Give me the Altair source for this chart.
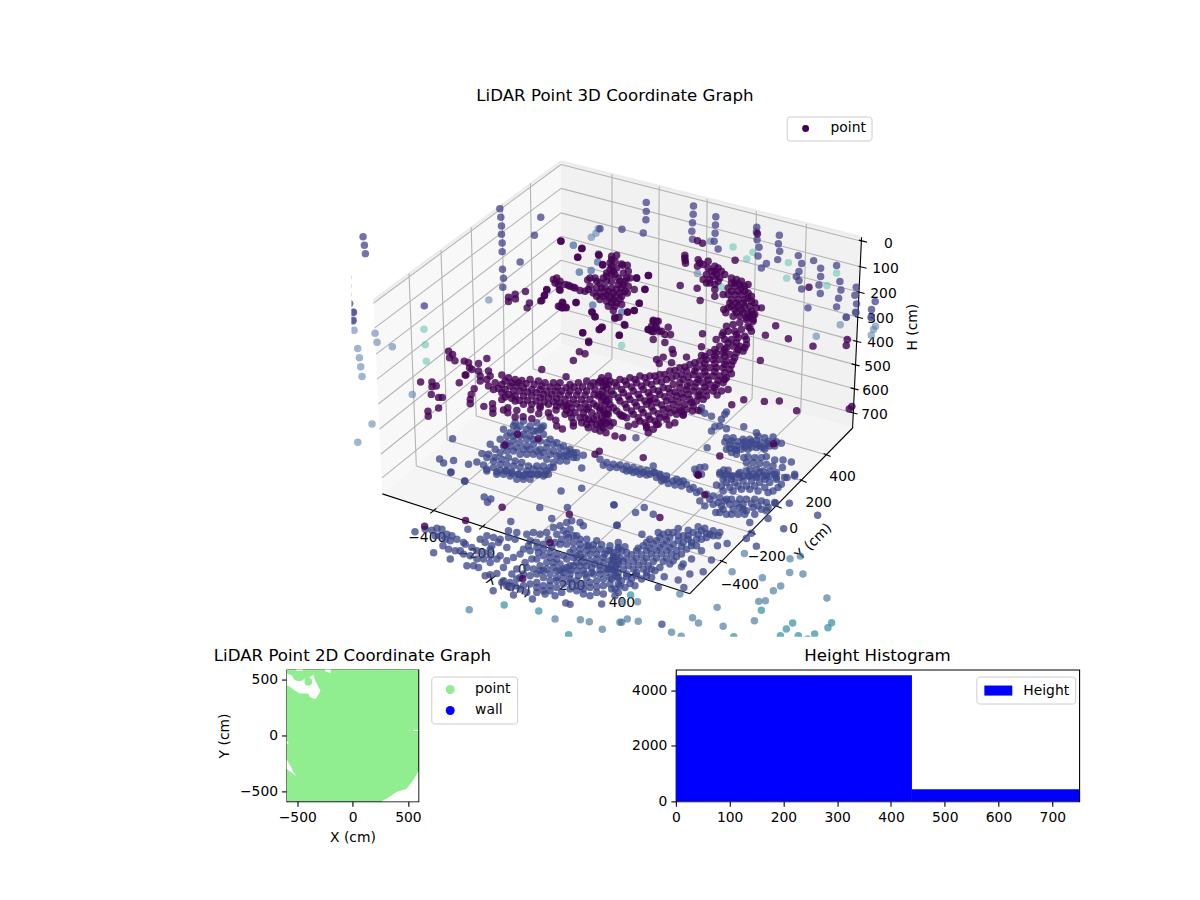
import altair as alt
import pandas as pd

FONT = "DejaVu Sans"
TITLE_3D = "LiDAR Point 3D Coordinate Graph"
TITLE_2D = "LiDAR Point 2D Coordinate Graph"
TITLE_HIST = "Height Histogram"

# 3D scatter: projected positions, in crop units
crop_origin = {1: (340, 150), 2: (600, 150), 3: (340, 310), 4: (600, 310),
               5: (370, 470), 6: (610, 470), 10: (540, 240)}

aqua_pts = [
    (2, [(400,287),(441,323),(460,303),(566,334),(561,381),(682,403),(711,365),(365,407)]),
    (3, [(251,54),(255,101),(258,150)]),
    (4, [(65,103)]),
]
steelfar_pts = [
    (1, [(446,446),(754,258),(768,246),(775,232),(700,282),(773,332),(718,362),(754,358),(758,462)]),
    (2, [(332,270),(293,367),(66,483)]),
    (3, [(38,3),(37,30),(41,57),(52,112),(57,140),(61,167),(65,196),(104,66),(110,93),(156,107),(216,250),(95,339),(52,394)]),
    (4, [(650,75),(722,41),(740,18),(770,5),(815,20),(828,45),(822,55),(815,72)]),
    (10, [(158,191),(245,212),(100,12),(175,37),(173,62),(118,93),(153,88)]),
]
steel_pts = [
    (5, [(297,417),(697,476),(750,455),(555,445),(631,447),(658,453)]),
    (6, [(404,248),(367,303),(541,264),(572,256),(540,305),(580,310),(458,321),(513,346),(491,360),
         (447,392),(467,390),(652,382),(322,410),(434,450),(340,467),(248,441),(266,457),(185,485),
         (214,497),(85,452),(52,445),(35,455),(83,393),(37,393),(210,370)]),
]
teal_pts = [
    (5, [(402,403),(506,421),(596,492)]),
    (6, [(62,373),(455,419),(549,457),(530,475),(512,495),(566,495),(615,490),(666,456),(655,471),(372,498),(594,505)]),
]
indigo_pts = [
    (1, [(22,378),(22,404),(22,430),(28,457),(39,483),(38,507),(68,256),(72,282),(75,307),(479,172),(482,198),(484,224),(484,249),
         (486,275),(486,301),(487,354),(490,381),(488,408),(602,198),(583,252),(540,332),(252,464)]),
    (2, [(139,153),(139,180),(138,205),(66,234),(130,245),(0,232),(281,164),(280,189),(278,214),(276,240),(278,264),
         (348,196),(347,221),(346,246),(343,270),(355,293),(471,228),(470,242),(472,265),(478,288),(475,314),(500,337),(485,350),
         (539,252),(536,277),(540,300),(534,325),(596,313),(606,337),(598,361),(590,376),(598,388),(606,413),(642,328),
         (663,351),(663,376),(658,401),(662,427),(711,343),(721,391),(724,416),(717,441),(711,467),(770,408),(766,432),
         (771,458),(768,483),(827,451),(816,475),(815,498),(740,498),(625,470)]),
]
blue_pts = [
    (3, [(525,335),(550,330),(570,345),(590,335),(605,350),(610,345),
         (490,355),(510,365),(530,355),(550,370),(570,375),(590,360),(610,370),(630,385),(650,395),(670,405),(690,415),(710,425),(730,433),
         (480,385),(500,395),(520,390),(540,395),(560,405),(580,400),(600,415),(620,410),(640,420),(660,430),(680,435),(700,440),
         (450,400),(465,415),(480,425),(500,420),(520,420),(540,430),(560,430),(580,430),(600,435),(620,445),(640,455),(660,450),(680,450),
         (425,428),(445,430),(465,440),(485,445),(505,440),(525,450),(545,455),(565,465),(590,465),(610,465),(630,470),
         (410,453),(430,462),(440,475),(460,470),(480,478),(500,478),(515,483),(535,490),(555,490),(575,490),(595,490),(615,490),
         (337,383),(298,444),(310,456),(340,449),(385,460),(332,483),(373,510),(725,471),
         (520,345),(540,345),(560,355),(580,360),(600,355),(500,375),(520,375),(540,375),(560,385),(580,385),(600,390),(620,395),(640,400),(660,410),(680,420),(700,425),
         (490,405),(510,405),(530,410),(550,415),(570,415),(590,420),(610,425),(630,430),(650,435),(670,435),(690,430),(710,440),
         (440,440),(460,450),(480,460),(500,460),(520,465),(540,470),(560,480),(580,475),(600,480),(620,480),(640,470),(470,490),(490,490),(510,495),(530,505),(550,505),(570,505)]),
    (4, [(108,380),(380,353),(432,347),(335,360),(345,347),(360,345),(365,325),(375,310),(380,303),(335,316),(315,307),(305,290),(302,300),(322,410),
         (380,380),(400,380),(430,385),(450,385),(470,365),(475,375),(495,380),(520,378),(545,397),(375,393),(390,400),(410,405),(430,400),(450,400),(470,400),(490,410),(510,405),(380,415),(395,425),(410,430),(425,415),(445,415),(470,410),(495,415),(525,405),(405,415),
         (395,390),(415,392),(435,392),(455,392),(470,388),(485,395),(505,392),(530,392),(390,412),(410,418),(435,408),(455,408),(480,405),(505,398),
         (432,440),(445,437),(465,440),(485,440),(500,437),(525,447),(550,447),(575,453),(440,455),(460,455),(480,458),(500,460),(520,465),(548,470),(450,475),(470,475),(490,480),(510,480),(530,485),(562,500),(585,490),(372,477),(385,478),(360,490),(375,495),(395,495),(415,490),(430,495),(450,495),(470,495),(490,495),(510,495),(530,500),(285,475),(300,470),(315,468),(290,488),(305,490),
         (0,445),(20,455),(40,460),(60,462),(80,465),(100,470),(120,475),(140,478),(160,465),(165,485),(180,490),(200,495),(10,463),(30,470),(50,470),(70,475),(90,478),(110,482),(130,485),(150,490),(170,500),(190,505),(230,505),(250,510)]),
    (5, [(242,5),(284,31),(573,60),(635,52),(342,78),(352,94),(362,84),(509,110),(592,110),(732,102),(422,152),(293,175),(740,163),(545,143),(134,183),(190,246),(240,265),(369,360),(430,373),(487,385),(587,397),(600,401),(695,400),
         (350,0),(380,3),(405,0),(425,8),(445,10),(460,15),(480,10),(500,12),(520,15),(535,10),
         (165,175),(185,178),(200,172),(215,175),(230,190),(195,195),(210,195),(245,195),(260,205),(225,205),(240,210),(280,215),
         (218,225),(235,235),(255,240),(270,240),(285,220),(305,230),(320,240),(340,245),(360,235),(350,195),(370,200),(390,205),(415,180),(440,185),(415,200),(435,205),(330,205),(345,215),(365,225),(385,215),(410,230),
         (280,250),(300,255),(320,265),(290,285),(310,285),(325,290),(340,265),(360,255),(380,265),(390,255),(360,275),(345,315),(360,312),(380,308),(400,290),(410,270),(430,260),(450,250),(460,235),(480,240),(505,245),(520,255),(540,245),(560,250),(500,265),(485,265),(465,275),(440,295),(425,310),(400,330),(420,335),(440,325),(470,290),(490,295),(510,285),(530,275),(550,275),(570,280),(590,265),(610,260),(630,250),(650,240),(670,235),(690,235),(710,240),(730,245),(745,235),
         (470,190),(490,185),(510,190),(530,185),(550,170),(570,165),(590,155),(605,150),(630,155),(640,165),(560,190),(580,180),(600,175),(620,195),(650,205),(680,210),(575,205),(595,200),(610,215),(630,220),(655,225),(535,205),(555,215),(480,210),(500,215),(520,220),
         (460,345),(480,340),(500,335),(520,320),(540,310),(560,300),(580,295),(600,285),(620,275),(640,275),(660,270),(680,265),(700,260),(730,270),(750,260),(500,365),(520,345),(540,345),(560,330),(580,320),(600,310),(620,300),(640,300),(665,290),(690,285),(715,290),(740,285),(410,345),(450,355),(470,365),(525,370),(555,375),(575,365),(600,355),(620,360),(640,370),(660,375),(680,365),(700,370),(725,355),(745,365),(640,340),(660,335),(680,330),(700,325),(720,320),(745,320),(600,335),(620,330),(650,320),(670,310),(690,310),(710,305),(730,300),
         (475,225),(500,230),(520,235),(545,230),(570,220),(590,190),(610,195),(630,205),(590,220),(610,235),(630,235),(650,225),(670,222),(695,222),(720,225),(745,215),(540,260),(560,265),(580,255),(600,245),(620,255),(640,260),(660,250),(680,250),(705,250),(730,258),(510,300),(530,295),(550,290),(570,300),(590,290),(610,285),(630,285),(650,285),(675,280),(700,275),(725,280),(745,270),(480,315),(500,310),(520,300),(540,330),(560,320),(580,305),(600,298),(625,315),(645,310),(665,305),(690,298),(710,295),(735,305),(500,350),(520,360),(540,360),(560,350),(580,340),(600,325),(620,345),(640,355),(660,350),(680,348),(700,345),(720,340),(745,340),(450,320),(460,310),(435,345),(420,350),(395,335)]),
    (6, [(50,0),(70,5),(90,10),(110,12),(130,5),(150,15),(170,25),(190,30),(210,33),(230,40),(250,50),(270,60),(290,70),(310,75),(330,80),(350,85),(155,30),(175,38),(195,42),(215,45),(240,55),(260,65),
         (330,5),(350,10),(370,15),(390,5),(410,0),(430,10),(450,5),(470,15),(495,10),(525,20),(555,15),(320,42),(335,45),(350,35),(375,35),(400,30),(425,30),(450,35),(480,35),(515,40),(370,60),(395,55),(420,55),(445,60),(475,65),(490,60),(270,90),(285,105),(300,85),(325,95),(345,90),(365,85),(390,85),(410,85),(435,85),(455,90),(495,95),(318,125),(340,115),(350,130),(370,115),(390,110),(410,120),(430,110),(455,115),(475,110),(365,130),(385,130),(405,130),(435,130),(470,120),
         (340,25),(365,25),(390,20),(415,15),(440,20),(465,25),(500,25),(340,60),(360,50),(385,45),(410,45),(435,45),(465,50),(505,50),(310,100),(335,105),(360,100),(380,98),(400,100),(425,98),(445,105),(470,95),(330,125),(400,115),
         (12,102),(77,125),(103,110),(130,130),(420,155),(475,143),(497,97),(539,97),(522,174),(22,163),(96,190),(410,203),(425,187),(352,218),(323,225),(440,226),(305,268),(280,303),(240,310),(222,350),(205,328),(163,318),(145,350),(156,461),(624,133),
         (145,185),(175,185),(205,173),(235,178),(265,168),(285,172),(310,180),(330,185),(325,195),
         (120,205),(150,200),(180,200),(205,195),(235,195),(265,190),(290,188),(310,195),
         (100,225),(130,220),(160,220),(190,220),(220,215),(245,215),(275,205),
         (50,245),(80,240),(110,240),(140,240),(170,240),(200,240),(230,235),(260,225),(245,265),(275,240),
         (25,230),(45,228),(0,240),(20,255),(50,265),(80,262),(110,262),(140,262),(170,262),(200,258),(220,280),(215,288),
         (0,270),(25,280),(55,285),(85,283),(115,285),(150,290),(180,280),
         (0,295),(25,305),(50,310),(80,305),(110,305),(135,300),(5,325),(35,330),(65,325),(95,325),(125,320),
         (15,355),(45,350),(75,345),(15,375),
         (160,190),(190,185),(220,195),(250,185),(275,180),(300,190),(110,215),(140,210),(170,210),(205,210),(235,205),(260,205),(290,200),(85,232),(120,232),(150,230),(180,230),(215,228),(245,225),(35,240),(65,252),(95,252),(125,250),(155,250),(185,250),(215,250),(10,262),(40,272),(70,272),(100,272),(130,272),(160,272),(190,270),(15,290),(40,295),(70,295),(100,295),(125,295),(20,318),(50,318),(80,315),(110,315),(30,345),(60,338)]),
]
purple_pts = [
    (1, [(556,421),(525,429),(526,443),(505,438),(505,451),(568,455),(561,470),(620,416),(613,433),(602,449),(662,269),(726,291),(713,318),(776,310),(788,341),(708,454),(658,415),(743,386),(660,465),(668,455),(678,470),(665,470),(757,483),(765,497)]),
    (2, [(473,247),(293,268),(308,276),(406,327),(146,373),(110,380),(135,414),(118,456),(103,478),(83,483),(45,498),(241,403),(292,411),(301,448),(255,312),(255,320),(256,328),(257,336),(628,408),
         (295,325),(293,345),(310,340),(325,330),(325,350),(345,345),(345,360),(365,360),(320,370),(340,375),(360,380),(375,370),(310,385),(330,395),(345,400),(345,415),(345,435),(370,430),(395,380),(410,385),(425,390),(445,400),(385,410),(405,405),(425,410),(445,425),(385,430),(405,430),(425,430),(445,440),(465,455),(390,455),(410,455),(430,455),(450,465),(470,470),(385,470),(405,475),(425,475),(445,485),(465,490),(400,495),(420,495),(440,500),(460,505),(372,475),(378,485),(485,470),
         (300,335),(335,360),(355,350),(350,370),(330,385),(320,395),(355,390),(405,395),(420,400),(435,405),(395,395),(395,420),(415,420),(435,420),(455,435),(395,445),(415,445),(435,445),(455,450),(395,465),(415,465),(435,465),(455,480),(410,485),(430,485),(450,495)]),
    (3, [(241,213),(275,213),(275,227),(288,225),(357,215),(273,250),(295,259),(306,259),(295,291),(263,301),(264,316),(402,233),(393,250),(390,265),(390,278),(431,286),(457,278),(458,293),(458,307),(377,192),(490,297),(503,290),(503,305),(530,298),(525,318),(549,317),(572,296),(600,290),(596,308),(575,323),(605,175),(678,197),(700,148),(718,122),(735,128),(746,94),(728,65),(778,55),(787,48),(625,305),(630,318),(648,297),(647,328),(650,345),(667,354),(532,370),(594,383),(494,402),(440,142),(765,430),(778,421),
         (325,120),(337,130),(328,140),(344,149),(372,150),(385,155),(388,170),(415,157),(415,180),(395,175),(445,180),(450,195),(420,195),(440,205),(420,210),(375,192),
         (485,192),(505,200),(525,205),(545,208),(570,205),(595,210),(615,215),(640,215),(660,215),(690,220),(715,215),(740,210),(760,215),(785,200),(805,195),
         (465,215),(485,220),(510,225),(530,225),(550,230),(575,235),(600,235),(620,240),(645,240),(665,240),(690,240),(715,240),(740,240),(765,235),(790,225),(805,220),
         (445,225),(460,235),(485,245),(505,250),(525,255),(550,255),(575,255),(600,260),(625,260),(650,262),(675,265),(700,265),(725,265),(750,265),(775,255),(800,250),
         (485,265),(525,270),(550,280),(575,280),(600,285),(625,280),(670,285),(695,290),(720,290),(745,290),(770,285),(795,280),
         (675,310),(695,320),(720,320),(745,325),(770,315),(795,310),(740,340),(765,355),(790,350),(745,350),(805,330),
         (495,210),(515,215),(535,215),(558,218),(582,220),(605,225),(630,228),(652,228),(678,230),(702,228),(728,228),(752,225),(775,215),(797,210),(475,232),(495,235),(520,240),(540,240),(562,243),(588,245),(610,250),(635,250),(660,252),(685,252),(710,252),(735,252),(762,250),(787,240),(495,258),(515,262),(538,268),(562,268),(588,270),(612,272),(640,272),(660,275),(688,278),(710,278),(735,278),(760,278),(785,268),(807,265),(680,298),(705,305),(730,305),(755,305),(780,298),(805,295),(690,305),(755,335),(780,335),(805,310),(770,340),
         (700,335),(725,335),(700,345),(680,285),(650,285),(740,295),(810,345),(790,330),(760,325),(735,320)]),
    (4, [(528,44),(497,72),(566,83),(640,105),(482,148),(432,266),(396,281),(494,271),(539,270),(591,299),(749,294),(757,286),(743,85),(740,103),(75,42),(58,72),(160,85),(170,145),(178,157),(190,138),(215,155),(217,115),(220,127),(195,94),(205,48),(175,30),(160,27),(145,55),(155,60),(165,50),(185,60),(195,70),(212,70),(308,68),(305,107),(349,85),(367,72),(260,138),(305,133),(385,235),(365,240),(352,252),(278,300),(295,298),(250,313),(225,335),(208,342),(175,340),(160,355),(140,350),(145,365),(85,345),(105,340),(65,315),(40,335),(45,375),(68,380),(20,335),(5,345),(18,365),(0,360),(130,440),(360,435),(522,398),(295,492),
         (380,45),(400,40),(420,35),(440,25),(460,10),(385,60),(405,60),(425,55),(445,45),(460,30),(375,85),(395,85),(415,80),(435,75),(455,60),(440,100),(420,105),(400,105),(380,110),(360,105),(330,125),(350,125),(370,125),(390,130),(410,125),(430,120),(300,150),(320,145),(340,145),(360,145),(380,150),(400,150),(270,160),(290,170),(310,170),(330,170),(350,170),(370,170),(390,175),(240,170),(260,180),(280,190),(300,195),(320,195),(340,195),(360,195),(380,200),(210,180),(230,195),(250,205),(270,215),(290,215),(310,215),(330,220),(350,220),(370,215),(180,190),(200,205),(220,220),(240,230),(260,235),(280,240),(300,240),(320,240),(340,240),(150,195),(170,210),(190,230),(210,245),(230,255),(250,260),(270,265),(290,270),(310,265),(120,195),(140,215),(160,235),(180,250),(200,270),(220,280),(240,290),(260,295),(280,285),(90,200),(110,215),(130,235),(150,255),(170,275),(190,295),(210,305),(230,310),(250,310),(60,205),(80,220),(100,240),(120,260),(140,280),(160,300),(180,320),(200,325),(30,210),(50,225),(70,245),(90,265),(110,285),(130,305),(150,325),(170,340),(0,210),(20,230),(40,250),(60,270),(80,290),(100,310),(120,330),(140,345),(0,250),(20,270),(40,290),(60,310),(80,320),(0,290),(20,310),(5,320),
         (370,65),(410,70),(450,50),(440,85),(410,95),(385,95),(345,115),(375,115),(415,115),(435,110),(315,135),(345,135),(375,135),(405,140),(285,155),(315,158),(345,158),(375,160),(395,162),(255,168),(285,180),(315,182),(345,182),(375,185),(395,188),(225,178),(245,190),(265,198),(295,205),(325,207),(355,208),(375,205),(195,190),(215,200),(240,215),(262,225),(285,228),(315,228),(345,230),(165,195),(185,212),(205,232),(225,243),(245,248),(265,250),(295,255),(320,255),(135,200),(155,220),(175,240),(195,257),(215,265),(235,272),(255,280),(275,275),(300,252),(105,205),(125,225),(145,245),(165,262),(185,282),(205,292),(225,298),(245,300),(75,210),(95,228),(115,250),(135,270),(155,288),(175,308),(195,315),(45,215),(65,235),(85,255),(105,275),(125,295),(145,315),(165,330),(15,218),(35,240),(55,260),(75,280),(95,300),(115,320),(135,335),(10,260),(30,280),(50,300),(70,315),(10,300)]),
    (5, [(396,109),(286,149),(163,166),(598,130),(540,216),(458,324)]),
    (6, [(150,140),(265,12),(285,72)]),
    (10, [(63,0),(125,22),(113,48),(177,42),(188,70),(245,68),(325,103),(290,110),(298,186),(283,208),(263,212),(315,145),(283,145),(262,155),(155,212),(165,227),(225,232),(237,228),(253,250),(185,258),(178,265),(128,275),(238,282),(146,300),(20,145),(13,163),(5,178),(60,147),(108,184),(67,183),(55,195),(68,200),(78,198),(340,240),(350,240),(335,255),(350,260),(325,265),(340,272),(358,270),
          (40,115),(50,110),(45,125),(55,130),(75,130),(90,135),(105,140),(120,148),(135,150),(150,135),(165,110),(150,110),(180,125),(170,140),(160,155),(180,155),(195,140),(200,120),(200,95),(210,85),(210,65),(215,45),(230,42),(225,60),(230,80),(225,100),(215,120),(235,110),(250,95),(262,72),(248,72),(265,90),(270,110),(255,120),(235,130),(215,140),(245,140),(265,135),(200,160),(220,155),(240,155),(180,175),(200,180),(220,175),(240,175),(205,195),(225,195),(245,190),(220,208),
          (60,120),(170,120),(185,140),(205,150),(225,165),(190,165),(210,170),(230,185),(215,185),(200,105),(215,75),(220,90),(240,120),(260,110),(250,130),(170,165),(145,145),(100,138),(85,132),(215,100),(215,55),(245,165),(255,150),(190,110),(230,145)]),
]

groups = ["aqua", "steelfar", "steel", "teal", "indigo", "blue", "purple"]
group_colors = ["#5cc3b0", "#5e82ad", "#3f7399", "#2a8c9a", "#3f3a87", "#3b4689", "#440154"]
group_opacity = [0.55, 0.8, 0.88, 0.8, 0.66, 0.9, 0.85]

# frame of the 3D box
pane_part = ["l","l","l","r","r","r","f","f","f","f"]
pane_x   = [373,382,561, 561,853,862, 382,561,690,853]
pane_top = [299,292,160, 160,233.7,236, 493,343,380,427]
pane_bot = [299,493,343, 343,427,236, 493,551,593,427]
pane_colors = ["#f8f8f8", "#f1f1f1", "#f5f5f5"]

grid_x1 = [373,374,375.7,376.7,378,379.3,380.7,381.7, 561,561,561,561,561,561,561,561,
           408.7,440.7,471,502,530.3, 612,659.3,707.3,756.7,806.7,
           612,658,705.6,752.3,801, 416,447,476,504.5,533]
grid_y1 = [302,327,353,378,403,428,453,477, 163,187,211.5,235,259,283.5,307.5,332,
           272,249,226,203,182, 172.7,185,197.3,210,222.7,
           357.7,371,384.5,398,412, 465,439,415,392,368]
grid_x2 = [561,561,561,561,561,561,561,561, 862,861.7,860,858.5,856.7,855,854,853,
           416,447,476,504.5,533, 612,658,705.6,752.3,801,
           433,482,531,581,632, 723,752,778,803,827]
grid_y2 = [163,187,211.5,235,259,283.5,307.5,332, 240,265.7,291,316,340,363.5,387.5,411.7,
           465,439,415,392,368, 357.7,371,384.5,398,412,
           510,526,541,558,574, 561,532,506,480,454]

edge_x1 = [373,561]
edge_y1 = [299,160]
edge_x2 = [561,862]
edge_y2 = [160,236]

axis_x1 = [382,690,862, 430,479,528,578,629, 720,749,775,800,824, 859.3,859,857,855.5,853.7,852,851,850]
axis_y1 = [493,593,236, 512.5,528.5,543.5,560.5,576.5, 559.5,530.5,504.5,478.5,452.5, 238.8,265,290.3,315.3,339.3,362.8,386.8,411]
axis_x2 = [690,853,853, 436,485,534,584,635, 727,756,782,807,831, 867.3,867,865,863.5,861.7,860,859,858]
axis_y2 = [593,427,427, 507.5,523.5,538.5,555.5,571.5, 562.5,533.5,507.5,481.5,455.5, 240.8,267,292.3,317.3,341.3,364.8,388.8,413]

tick_text = ["\u2212400","\u2212200","0","200","400","\u2212400","\u2212200","0","200","400",
             "0","100","200","300","400","500","600","700"]
tick_tx = [427,476,522,572,622, 740,767,794,819,843, 889,886,884,881,881,878,876,875]
tick_ty = [537,553,569,585,602, 584,556,528,502,476, 243,268,293,318,342,366,390,414]

label_text = ["X (cm)", "Y (cm)", "H (cm)"]
label_x = [508, 814, 914]
label_y = [585, 541, 326]
label_angle = [18, 315, 270]

# 2D panel: free gaps in the cloud of points
gap_part = ["a"]*11 + ["b"]*6 + ["c"]*3 + ["d"]*2 + ["e"]*2 + ["g"]*2 + ["h"]*2
gap_x   = [-592,-552,-522,-477,-432,-402,-386,-356,-332,-302,-290,
           262,307,397,488,548,597, -597,-581,-512, -250,-199, -510,-450, 548,597, -597,-581]
gap_top = [552,537,492,483,507,513,520,543,477,420,403,
           -591,-567,-507,-478,-403,-320, -215,-240,-364, 592,592, 592,592, 50,50, -55,-55]
gap_bot = [448,424,400,373,373,373,343,330,328,373,403,
           -595,-595,-595,-595,-595,-595, -300,-313,-364, 575,556, 578,578, 38,38, -75,-75]
cloud_x = [-597, 594]
cloud_low = [-592, -592]
cloud_high = [592, 592]
point2d_x = [-480,-400,-300,-120,60,240,420,-200,0,200,-350,150]
point2d_y = [520,480,300,120,-60,240,-280,-350,380,-500,-100,60]

hist_left = [0, 439]
hist_right = [439, 750]
hist_count = [4540, 432]
hist_base = [0, 0]

SP3D = 343
OX, OY = 351, 8
W3, H3 = 841, 628
ROW2_TOP = 661

rows = []
for name, table in [("aqua", aqua_pts), ("steelfar", steelfar_pts), ("steel", steel_pts),
                    ("teal", teal_pts), ("indigo", indigo_pts), ("blue", blue_pts), ("purple", purple_pts)]:
    for crop, pts in table:
        ox, oy = crop_origin[crop]
        for cx, cy in pts:
            rows.append({"sx": ox + cx / 3, "sy": oy + cy / 3, "g": name})
scatter = pd.DataFrame(rows)

sx_scale = alt.Scale(domain=[OX, OX + W3], nice=False, zero=False)
sy_scale = alt.Scale(domain=[OY + H3, OY], nice=False, zero=False)
X = alt.X("sx:Q", scale=sx_scale, axis=None)
Y = alt.Y("sy:Q", scale=sy_scale, axis=None)

pane_df = pd.DataFrame({"p": pane_part, "sx": pane_x, "t": pane_top, "b": pane_bot})
panes = alt.Chart(pane_df).mark_area(opacity=1, line=False).encode(
    x=X, y=alt.Y("t:Q", scale=sy_scale, axis=None), y2="b:Q",
    color=alt.Color("p:N", scale=alt.Scale(domain=["l", "r", "f"], range=pane_colors), legend=None),
)

def segs(x1, y1, x2, y2, color, width):
    df = pd.DataFrame({"sx": x1, "sy": y1, "ex": x2, "ey": y2})
    return alt.Chart(df).mark_rule(color=color, strokeWidth=width).encode(x=X, y=Y, x2="ex:Q", y2="ey:Q")

edges = segs(edge_x1, edge_y1, edge_x2, edge_y2, "#ececec", 2.5)
grid = segs(grid_x1, grid_y1, grid_x2, grid_y2, "#b4b4b4", 1.1)
axes3 = segs(axis_x1, axis_y1, axis_x2, axis_y2, "#000000", 1.1)

ticks_df = pd.DataFrame({"sx": tick_tx, "sy": tick_ty, "t": tick_text})
tick_labels = alt.Chart(ticks_df).mark_text(font=FONT, fontSize=13.9, color="black", align="center", baseline="middle").encode(
    x=X, y=Y, text="t:N")

label_layers = []
for t, lx, ly, a in zip(label_text, label_x, label_y, label_angle):
    label_layers.append(
        alt.Chart(pd.DataFrame({"sx": [lx], "sy": [ly], "t": [t]}))
        .mark_text(font=FONT, fontSize=13.9, color="black", align="center", baseline="middle", angle=a)
        .encode(x=X, y=Y, text="t:N")
    )

dots = alt.Chart(scatter).mark_circle(size=56, clip=True).encode(
    x=X, y=Y,
    color=alt.Color("g:N", scale=alt.Scale(domain=groups, range=group_colors), legend=None),
    opacity=alt.Opacity("g:N", scale=alt.Scale(domain=groups, range=group_opacity), legend=None),
)

legend_style = dict(title=None, orient="none", fillColor="white", strokeColor="#cccccc", cornerRadius=3,
                    labelFont=FONT, labelFontSize=13.9, labelColor="black", symbolOpacity=1)

legend3 = alt.Chart(pd.DataFrame({"sx": [650], "sy": [400], "s": ["point"]})).mark_circle(size=42, opacity=1).encode(
    x=X, y=Y,
    fill=alt.Fill("s:N", scale=alt.Scale(domain=["point"], range=["#440154"]),
                  legend=alt.Legend(legendX=787 - 8, legendY=115 - OY, symbolSize=48, symbolType="circle",
                                    padding=5, symbolOffset=7, labelOffset=18, **legend_style)),
)

top = alt.layer(panes, edges, grid, axes3, tick_labels, *label_layers, dots, legend3).resolve_scale(color="independent").properties(
    width=W3, height=H3, view=alt.ViewConfig(stroke="transparent"),
    title=alt.TitleParams(TITLE_3D, anchor="start", align="center", dx=615 - OX, dy=95 - OY + 12,
                          font=FONT, fontSize=16.67, fontWeight="normal", color="black"),
)

def spacer(w, h):
    return alt.Chart(pd.DataFrame({"v": [0]})).mark_point(opacity=0).encode(
        x=alt.X("v:Q", axis=None), y=alt.Y("v:Q", axis=None)
    ).properties(width=w, height=h, view=alt.ViewConfig(stroke="transparent"))

axis_style = dict(grid=False, domain=False, tickColor="black", tickSize=5, tickWidth=1.1, labelFont=FONT, labelFontSize=13.9,
                  labelColor="black", labelPadding=4, titleFont=FONT, titleFontSize=13.9, titleFontWeight="normal",
                  titleColor="black", labelFlush=False, labelOverlap=False, format="d")
title_style = dict(font=FONT, fontSize=16.67, fontWeight="normal", color="black", offset=5)

x2d = alt.Scale(domain=[-597, 594], nice=False, zero=False)
y2d = alt.Scale(domain=[-591, 588], nice=False, zero=False)
X2 = alt.X("x:Q", scale=x2d, title="X (cm)", axis=alt.Axis(values=[-500, 0, 500], titlePadding=6, **axis_style))
Y2 = alt.Y("y:Q", scale=y2d, title="Y (cm)", axis=alt.Axis(values=[-500, 0, 500], titlePadding=8, **axis_style))

cloud = alt.Chart(pd.DataFrame({"x": cloud_x, "y": cloud_low, "y2": cloud_high})).mark_area(color="#90ee90", clip=True, opacity=1).encode(
    x=X2, y=Y2, y2="y2:Q")
gaps = alt.Chart(pd.DataFrame({"p": gap_part, "x": gap_x, "y": gap_top, "y2": gap_bot})).mark_area(color="white", clip=True, opacity=1).encode(
    x=X2, y=Y2, y2="y2:Q", detail="p:N")
pts2d = alt.Chart(pd.DataFrame({"x": point2d_x, "y": point2d_y, "s": ["point"] * len(point2d_x)})).mark_circle(size=60, opacity=1, clip=True).encode(
    x=X2, y=Y2,
    color=alt.Color("s:N", scale=alt.Scale(domain=["point", "wall"], range=["#90ee90", "#0000ff"]),
                    legend=alt.Legend(legendX=145, legendY=7, symbolSize=80, symbolType="circle",
                                      padding=6, symbolOffset=6, labelOffset=18, rowPadding=6, **legend_style)),
)
panel2d = alt.layer(cloud, gaps, pts2d).properties(
    width=132, height=132, view=alt.ViewConfig(stroke="black", strokeWidth=1.1),
    title=alt.TitleParams(TITLE_2D, **title_style),
)

hist_df = pd.DataFrame({"l": hist_left, "r": hist_right, "c": hist_count, "b": hist_base, "s": ["Height"] * 2})
hist = alt.Chart(hist_df).mark_rect(opacity=1).encode(
    x=alt.X("l:Q", scale=alt.Scale(domain=[0, 750], nice=False), title=None,
            axis=alt.Axis(values=[0, 100, 200, 300, 400, 500, 600, 700], **axis_style)),
    x2="r:Q",
    y=alt.Y("c:Q", scale=alt.Scale(domain=[0, 4745], nice=False), title=None,
            axis=alt.Axis(values=[0, 2000, 4000], **axis_style)),
    y2="b:Q",
    color=alt.Color("s:N", scale=alt.Scale(domain=["Height"], range=["#0000ff"]),
                    legend=alt.Legend(legendX=301, legendY=7, symbolSize=196, symbolType="M-2,-0.72H2V0.72H-2Z",
                                      padding=6, symbolOffset=8, labelOffset=17, **legend_style)),
).properties(width=404, height=132, view=alt.ViewConfig(stroke="black", strokeWidth=1.1),
             title=alt.TitleParams(TITLE_HIST, **title_style))

row1 = alt.hconcat(spacer(SP3D, H3), top, spacing=0, bounds="flush")
row2 = alt.hconcat(spacer(278, 132), panel2d, spacer(258, 132), hist, spacing=0, bounds="flush").resolve_scale(color="independent")
chart = alt.vconcat(row1, row2, spacing=ROW2_TOP, bounds="flush").resolve_scale(color="independent").properties(padding=0)
chart.save("out.html", embed_options={"renderer": "svg", "actions": False})
